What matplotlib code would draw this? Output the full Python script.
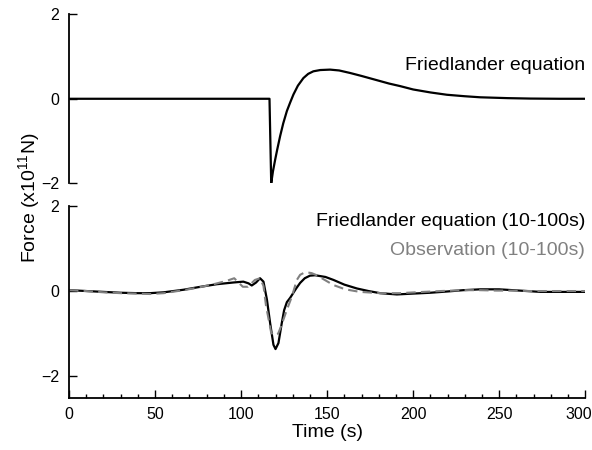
import matplotlib
matplotlib.use("Agg")
import matplotlib.pyplot as plt
from matplotlib.ticker import MultipleLocator, FuncFormatter

plt.rcParams["font.family"] = ["Liberation Sans", "DejaVu Sans"]
plt.rcParams["mathtext.fontset"] = "custom"
plt.rcParams["mathtext.rm"] = "Liberation Sans"
plt.rcParams["mathtext.default"] = "regular"

# ---------------------------------------------------------------------------
# Data (time in s, force in 1e11 N)
# ---------------------------------------------------------------------------
# Top: raw Friedlander pulse
t_fried = [0, 116.5, 117.5, 118.5, 119.8, 121, 122.7, 124.5, 126.6, 128.5,
           130.4, 133, 136.2, 139, 142, 146, 151.7, 157, 163.4, 170, 178.9,
           186, 192.4, 200, 210, 219.6, 230, 239, 255, 268, 285, 300]
f_fried = [0, 0, -2, -1.72, -1.44, -1.2, -0.88, -0.58, -0.29, -0.09,
           0.10, 0.31, 0.49, 0.59, 0.65, 0.68, 0.69, 0.67, 0.61, 0.54, 0.44,
           0.36, 0.30, 0.22, 0.15, 0.095, 0.06, 0.035, 0.015, 0.005, 0.0, 0.0]

# Bottom: band-passed Friedlander (10-100 s)
t_filt = [0, 10, 20, 30, 40, 47, 55, 66.5, 75, 85.9, 95.5, 101.3, 104.3,
          106.2, 108.7, 111, 113, 115, 116.9, 118.8, 120, 121.7, 123.6, 125,
          126.6, 128.5, 130.4, 132, 134.3, 137, 140, 143, 149, 153.7, 160,
          167.3, 174, 180.8, 190.5, 200, 210, 220, 229, 239, 250, 258, 266,
          274, 285, 300]
f_filt = [0.02, 0.0, -0.02, -0.04, -0.05, -0.05, -0.03, 0.03, 0.09, 0.16,
          0.2, 0.22, 0.18, 0.13, 0.2, 0.3, 0.22, -0.2, -0.76, -1.26, -1.36,
          -1.22, -0.76, -0.45, -0.26, -0.16, -0.04, 0.06, 0.19, 0.3, 0.36,
          0.37, 0.33, 0.26, 0.15, 0.06, 0.0, -0.05, -0.08, -0.06, -0.04,
          -0.01, 0.02, 0.04, 0.04, 0.02, 0.0, -0.02, -0.02, -0.02]

# Bottom: band-passed observation (10-100 s)
t_obs = [0, 10, 20, 30, 40, 47, 55, 66.5, 75, 85, 91.7, 96, 101, 104, 108,
         111, 113, 114.5, 117.5, 119.5, 121.5, 123, 124.5, 126.6, 129.5,
         132.4, 134.3, 136.2, 138, 141, 144, 149, 153.7, 160.5, 169, 180.8,
         192, 206, 216, 229, 239, 248.6, 258, 268, 285, 300]
f_obs = [0.02, 0.0, -0.03, -0.05, -0.06, -0.07, -0.05, 0.02, 0.08, 0.17,
         0.24, 0.3, 0.1, 0.1, 0.26, 0.3, 0.12, -0.35, -0.98, -1.04, -1.0,
         -0.85, -0.68, -0.44, -0.13, 0.26, 0.38, 0.42, 0.44, 0.42, 0.37,
         0.25, 0.14, 0.04, -0.02, -0.05, -0.05, -0.02, 0.0, 0.02, 0.02,
         0.01, 0.01, 0.0, 0.0, 0.0]

GREY = "#808080"
X_MAX = 300

fig = plt.figure(figsize=(5.92, 4.5), dpi=100)
ax_top = fig.add_axes([0.1166, 0.5927, 0.872, 0.3756])
ax_bot = fig.add_axes([0.1166, 0.1162, 0.872, 0.4267])


def style(ax):
    for side in ("top", "right"):
        ax.spines[side].set_visible(False)
    for side in ("left", "bottom"):
        ax.spines[side].set_linewidth(1.3)
    ax.tick_params(which="major", direction="in", length=5.5, width=1.0,
                   labelsize=11.5, pad=7)
    ax.tick_params(which="minor", direction="in", length=3, width=1.0)
    ax.set_yticks([-2, 0, 2])
    ax.set_xlim(0, X_MAX)


# ---- top panel --------------------------------------------------------------
style(ax_top)
ax_top.plot(t_fried, f_fried, color="black", lw=1.6, solid_joinstyle="round")
ax_top.set_ylim(-2, 2)
ax_top.spines["bottom"].set_visible(False)
ax_top.tick_params(axis="x", which="both", bottom=False, labelbottom=False)
ax_top.text(X_MAX, 0.69, "Friedlander equation", ha="right", va="baseline",
            fontsize=14)

# ---- bottom panel -----------------------------------------------------------
style(ax_bot)
ax_bot.plot(t_filt, f_filt, color="black", lw=1.6, solid_joinstyle="round")
ax_bot.plot(t_obs, f_obs, color=GREY, lw=1.5, dashes=(4.5, 2.5))
ax_bot.set_ylim(-2.5, 2)
ax_bot.spines["left"].set_bounds(-2.5, 2)
ax_bot.xaxis.set_major_locator(MultipleLocator(50))
ax_bot.xaxis.set_minor_locator(MultipleLocator(10))
# last label is placed by hand a few pixels to the left so it is not clipped
ax_bot.xaxis.set_major_formatter(
    FuncFormatter(lambda v, _: "" if v >= X_MAX else f"{v:.0f}"))
ax_bot.annotate(f"{X_MAX}", xy=(X_MAX, 0), xycoords=ax_bot.get_xaxis_transform(),
                xytext=(-5, -7), textcoords="offset points",
                ha="center", va="top", fontsize=11.5)
ax_bot.set_xlabel("Time (s)", fontsize=14, labelpad=1)
ax_bot.text(X_MAX, 1.52, "Friedlander equation (10-100s)", ha="right",
            va="baseline", fontsize=14)
ax_bot.text(X_MAX, 0.84, "Observation (10-100s)", ha="right",
            va="baseline", fontsize=14, color=GREY)

fig.text(29 / 592, 1 - 198 / 450, "Force (x10$^{11}$N)", rotation=90,
         ha="center", va="center", fontsize=14)

fig.savefig("out.png", dpi=100)
